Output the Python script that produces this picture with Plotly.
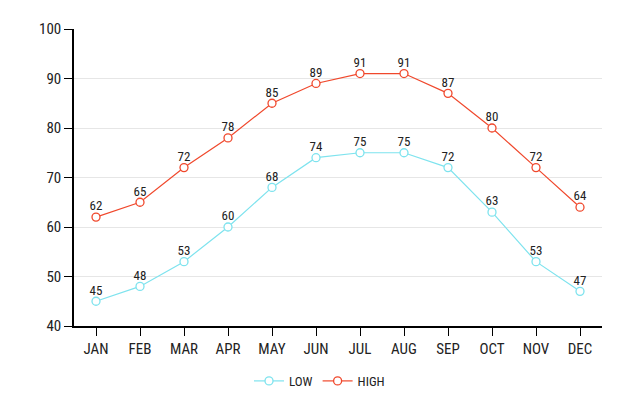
import plotly.graph_objects as go

months = ["JAN", "FEB", "MAR", "APR", "MAY", "JUN", "JUL", "AUG", "SEP", "OCT", "NOV", "DEC"]
low = [45, 48, 53, 60, 68, 74, 75, 75, 72, 63, 53, 47]
high = [62, 65, 72, 78, 85, 89, 91, 91, 87, 80, 72, 64]

fnt = "Roboto Condensed, Roboto, sans-serif"
clr_low = "#7ee3ee"
clr_high = "#f0482c"

fig = go.Figure()
for name, vals, c in [("LOW", low, clr_low), ("HIGH", high, clr_high)]:
    fig.add_trace(go.Scatter(
        x=months, y=vals, name=name, mode="lines+markers",
        line=dict(color=c, width=1.2),
        marker=dict(symbol="circle", size=8, color="white",
                    line=dict(color=c, width=1.3)),
    ))
    # value labels; invisible small marker just pushes the text up a bit
    fig.add_trace(go.Scatter(
        x=months, y=vals, mode="markers+text", showlegend=False, hoverinfo="skip",
        marker=dict(size=4, color="rgba(0,0,0,0)"),
        text=[str(v) for v in vals], textposition="top center",
        textfont=dict(size=13, color="#222"),
    ))

# page body adds an 8px offset, margins are set with that in mind
fig.update_layout(
    width=640, height=400,
    margin=dict(l=66, r=46, t=21, b=78),
    paper_bgcolor="white", plot_bgcolor="white",
    font=dict(family=fnt, size=15, color="#222"),
    showlegend=True,
    legend=dict(orientation="h", x=0.465, xanchor="center", y=-0.185, yanchor="middle",
                font=dict(size=13)),
    xaxis=dict(range=[-0.5, 11.5], showline=True, linecolor="black", linewidth=1.5,
               ticks="outside", ticklen=8, tickcolor="black", showgrid=False,
               automargin=False),
    yaxis=dict(range=[40, 100], dtick=10, showline=True, linecolor="black", linewidth=1.5,
               ticks="outside", ticklen=8, tickcolor="black",
               showgrid=True, gridcolor="#e6e6e6", zeroline=False, automargin=False),
)

fig.write_html("out.html")
